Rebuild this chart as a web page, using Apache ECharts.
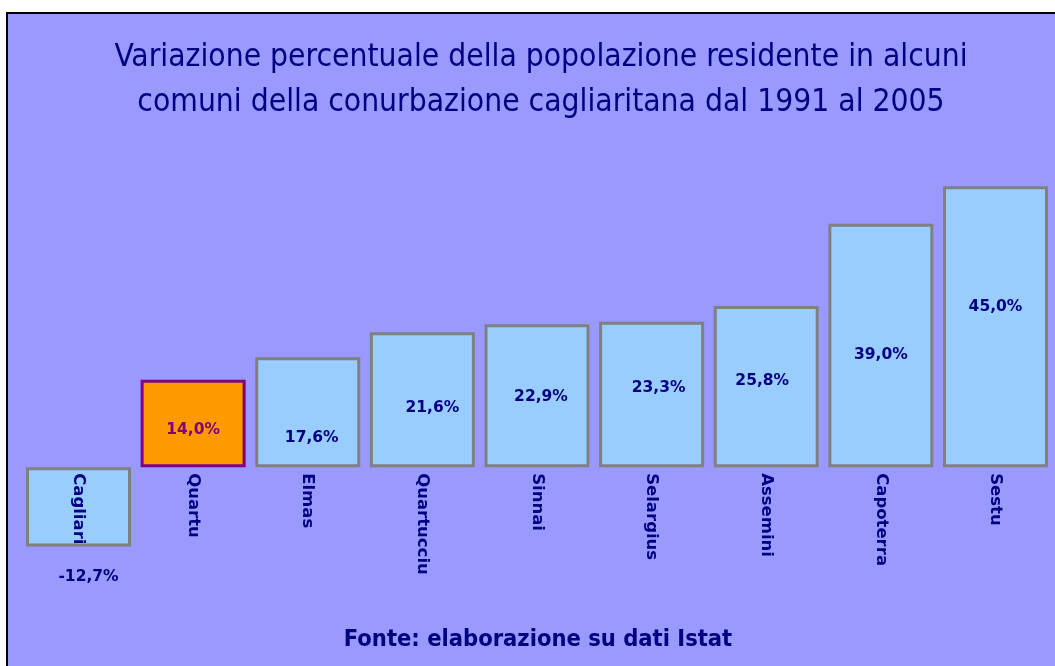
<!DOCTYPE html>
<html>
<head>
<meta charset="utf-8">
<script src="https://cdn.jsdelivr.net/npm/echarts@6/dist/echarts.min.js"></script>
<style>
html,body{margin:0;padding:0;background:#fff;}
#chart{width:1055px;height:666px;}
</style>
</head>
<body>
<div id="chart"></div>
<script>
const comuni=['Cagliari','Quartu','Elmas','Quartucciu','Sinnai','Selargius','Assemini','Capoterra','Sestu'];
const variazione=[-12.7,14.0,17.6,21.6,22.9,23.3,25.8,39.0,45.0];
const titolo='Variazione percentuale della popolazione residente in alcuni\ncomuni della conurbazione cagliaritana dal 1991 al 2005';
const fonte='Fonte: elaborazione su dati Istat';
const evidenza='Quartu'; //barra arancione

// spostamento etichette dal centro barra, come nel grafico originale
const labelShift=[[10,70],[0,7],[4,26],[10,8],[4,1],[7,-6],[-4,-6],[0,10],[0,-20]];
const NAVY='#000080';
const FONT='"DejaVu Sans Condensed","DejaVu Sans",sans-serif';
const Y_MIN=-20, Y_MAX=50;
const GRID_TOP=155, GRID_BOTTOM=74, H=666;
const fmt=v=>v.toFixed(1).replace('.',',')+'%';

var chart=echarts.init(document.getElementById('chart'));
var data=variazione.map((v,i)=>{
    var hi=comuni[i]==evidenza;
    var d={value:v,label:{offset:labelShift[i],color:hi?'#800080':NAVY}};
    if(hi) d.itemStyle={color:'#FF9900',borderColor:'#800080'};
    return d;
});
// l'asse x sta sullo zero: spostamento dal fondo della griglia
var gridH=H-GRID_TOP-GRID_BOTTOM;
var zeroOffset=-gridH*(0-Y_MIN)/(Y_MAX-Y_MIN);

chart.setOption({
    backgroundColor:'#ffffff',
    animation:false,
    graphic:[
        {type:'rect',z:-10,silent:true,
         shape:{x:7,y:13,width:1060,height:660},
         style:{fill:'#9999FF',stroke:'#000000',lineWidth:2}},
        {type:'text',x:541,y:80,
         style:{text:titolo,fill:NAVY,font:'31.5px '+FONT,align:'center',verticalAlign:'middle',lineHeight:45}},
        {type:'text',x:538,y:640,
         style:{text:fonte,fill:NAVY,font:'bold 23.5px '+FONT,align:'center',verticalAlign:'middle'}}
    ],
    grid:{left:21.2,right:2.2,top:GRID_TOP,bottom:GRID_BOTTOM,outerBoundsMode:'none',containLabel:false},
    xAxis:{
        type:'category',
        data:comuni,
        z:10, //nomi sopra la barra negativa
        offset:zeroOffset,
        axisLine:{show:false,onZero:false},
        axisTick:{show:false},
        axisLabel:{rotate:-90,margin:6,padding:[0,0,8,0],color:NAVY,fontWeight:'bold',fontSize:16.5,fontFamily:'"DejaVu Sans",sans-serif'}
    },
    yAxis:{type:'value',min:Y_MIN,max:Y_MAX,show:false,splitLine:{show:false}},
    series:[{
        type:'bar',
        data:data,
        barCategoryGap:'8.4%',
        itemStyle:{color:'#99CCFF',borderColor:'#808080',borderWidth:3},
        label:{show:true,position:'inside',formatter:p=>fmt(p.value),
            fontWeight:'bold',fontSize:15.5,fontFamily:'"DejaVu Sans",sans-serif'}
    }]
});
</script>
</body>
</html>
